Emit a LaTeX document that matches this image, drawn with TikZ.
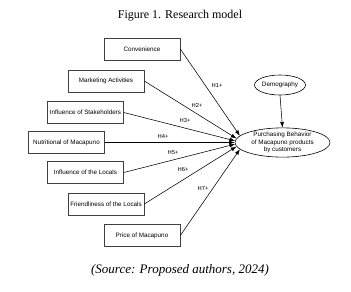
\documentclass[tikz,border=0pt]{standalone}
\usepackage{fontspec}
\setmainfont{Liberation Serif}
\setsansfont{Liberation Sans}
\usetikzlibrary{shapes.geometric,arrows.meta}

\begin{document}
\begin{tikzpicture}[x=1pt,y=-1pt,
    factor/.style={draw=black!75, line width=0.6pt, fill=white, minimum width=76pt,
      minimum height=22pt, inner sep=0pt, font=\sffamily\fontsize{6.3}{7.5}\selectfont},
    latent/.style={draw, ellipse, line width=0.6pt, inner sep=0pt, align=center,
      font=\sffamily\fontsize{6.3}{7.4}\selectfont},
    hyp/.style={inner sep=0pt, font=\sffamily\fontsize{5.8}{7}\selectfont},
    link/.style={-{Latex[length=5.5pt,width=4pt]}, line width=0.55pt}]
    \useasboundingbox (0,0) rectangle (351,292);
    \node (title) at (180,16) {\fontsize{12}{14}\selectfont Figure 1. Research model};
    % factors on the left
    \node[factor] (conv)   at (142,49)    {Convenience};
    \node[factor] (mkt)    at (106,81)    {Marketing Activities};
    \node[factor] (stake)  at (85.5,112.5) {Influence of Stakeholders};
    \node[factor] (nutr)   at (66.5,142.5) {Nutritional of Macapuno};
    \node[factor] (local)  at (85.5,172.5) {Influence of the Locals};
    \node[factor] (friend) at (106,204)   {Friendliness of the Locals};
    \node[factor] (price)  at (142,235.5) {Price of Macapuno};
    % outcome and moderator
    \node[latent, minimum width=95pt, minimum height=29pt] (buy) at (282.5,142.5)
      {Purchasing Behavior\\of Macapuno products\\by customers};
    \node[latent, minimum width=42pt, minimum height=20pt] (demo) at (280,85) {Demography};
    % hypotheses
    \draw[link] (conv.east)   -- (buy.171);
    \draw[link] (mkt.east)    -- (buy.175);
    \draw[link] (stake.east)  -- (buy.178);
    \draw[link] (nutr.east)   -- (buy.west);
    \draw[link] (local.east)  -- (buy.182);
    \draw[link] (friend.east) -- (buy.185);
    \draw[link] (price.east)  -- (buy.189);
    \draw[link] (demo.south)  -- (buy.north);
    \node[hyp] (h1) at (217,86)  {H1+};
    \node[hyp] (h2) at (197,105) {H2+};
    \node[hyp] (h3) at (185,121) {H3+};
    \node[hyp] (h4) at (163,137) {H4+};
    \node[hyp] (h5) at (173,153) {H5+};
    \node[hyp] (h6) at (183,170) {H6+};
    \node[hyp] (h7) at (203,189) {H7+};
    \node (source) at (180,270) {\fontsize{13}{15}\selectfont\itshape (Source: Proposed authors, 2024)};
\end{tikzpicture}
\end{document}
